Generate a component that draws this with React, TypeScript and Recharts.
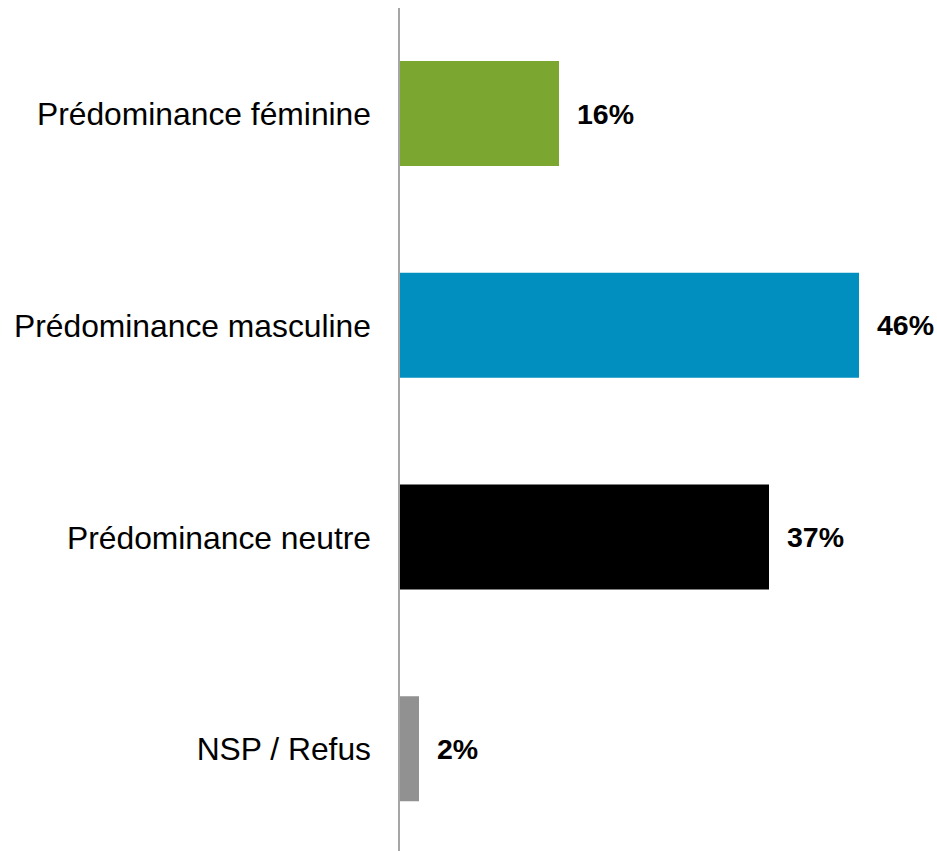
import { BarChart, Bar, XAxis, YAxis, Cell, LabelList } from "recharts";

const categories = [
  "Prédominance féminine",
  "Prédominance masculine",
  "Prédominance neutre",
  "NSP / Refus",
];
const values = [16, 46, 37, 2];
const barColors = ["#7BA731", "#008FBF", "#000000", "#919191"];

const data = categories.map((name, i) => ({ name, value: values[i] }));

export default function App() {
  return (
    <div
      style={{
        position: "absolute",
        top: 8,
        left: 8,
        width: 929,
        height: 843,
        overflow: "hidden",
        fontFamily: "'Liberation Sans', Arial, sans-serif",
      }}
    >
      <BarChart
        width={929}
        height={847}
        data={data}
        layout="vertical"
        margin={{ top: 0, right: 38, bottom: 0, left: 0 }}
      >
        <XAxis type="number" domain={[0, 50]} hide />
        <YAxis
          type="category"
          dataKey="name"
          width={391}
          tickLine={false}
          tickMargin={22}
          axisLine={{ stroke: "#A6A6A6", strokeWidth: 2 }}
          tick={{ fontSize: 31.8, fill: "#000000", fontFamily: "'Liberation Sans', Arial, sans-serif" }}
          interval={0}
        />
        <Bar dataKey="value" barSize={105} isAnimationActive={false}>
          {data.map((d, i) => (
            <Cell key={d.name} fill={barColors[i]} />
          ))}
          <LabelList
            dataKey="value"
            position="right"
            offset={18}
            formatter={(v: number) => `${v}%`}
            style={{ fontSize: 28.5, fontWeight: "bold", fill: "#000000", fontFamily: "'Liberation Sans', Arial, sans-serif" }}
          />
        </Bar>
      </BarChart>
    </div>
  );
}
